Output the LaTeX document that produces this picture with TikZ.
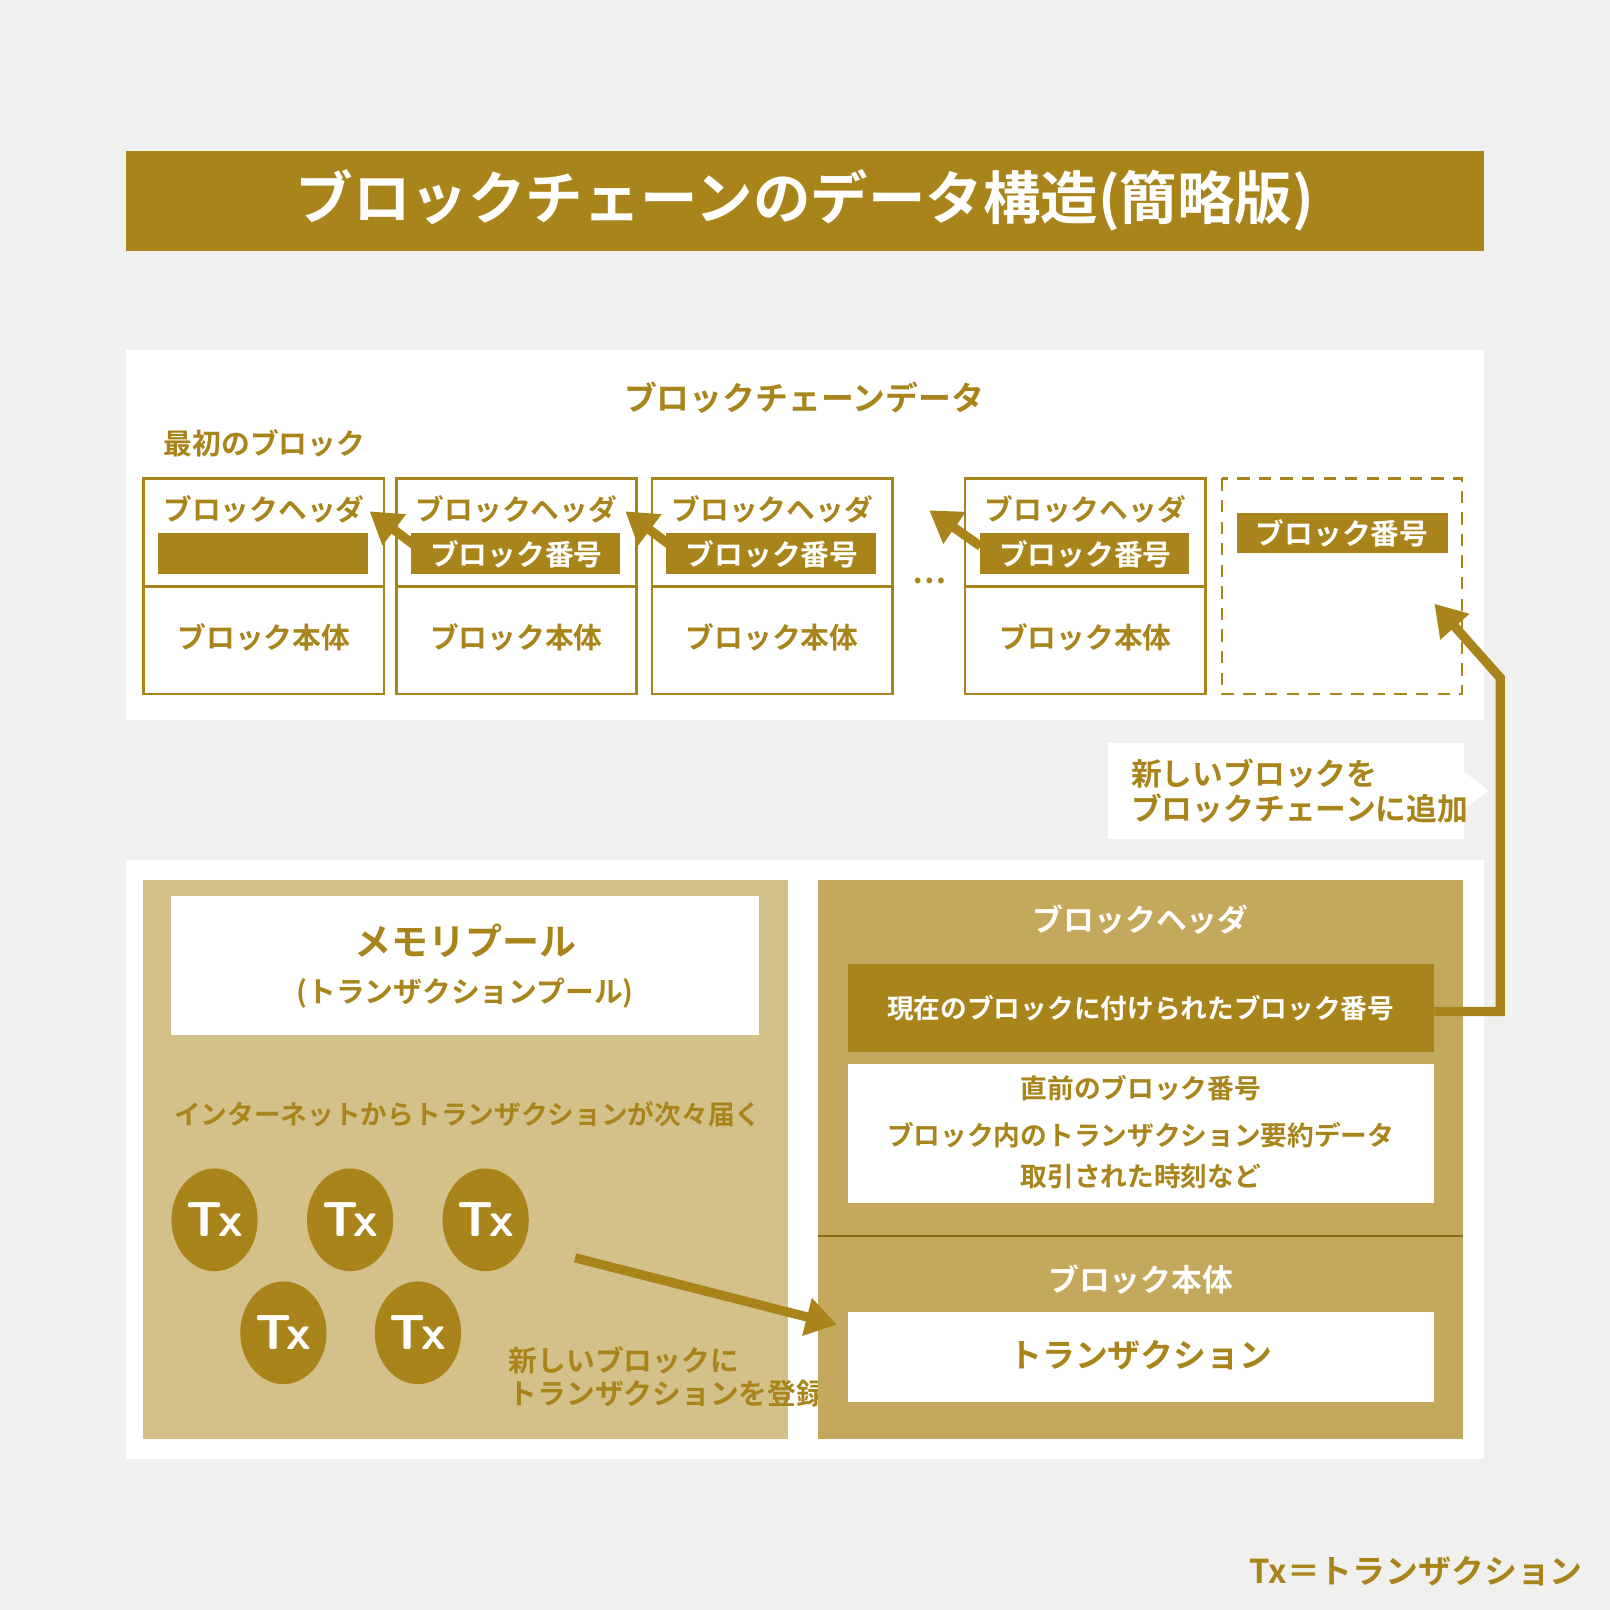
\documentclass[tikz,border=0pt]{standalone}
\usepackage{fontspec}
\setmainfont{Noto Sans CJK JP Bold}
\usetikzlibrary{arrows.meta}
\definecolor{gold}{HTML}{A8841A}
\definecolor{tan}{HTML}{D4C18A}
\definecolor{mid}{HTML}{C4A85C}
\definecolor{bg}{HTML}{F0F0EE}
\newcommand{\fs}[1]{\fontsize{#1}{#1}\selectfont}
\tikzset{
  blk/.style={draw=gold,line width=2.5pt,fill=white},
  gtxt/.style={text=gold,font=\fs{28}},
  wtxt/.style={text=white,font=\fs{28}},
  gbar/.style={fill=gold},
  arr/.style={draw=gold,line width=9pt,-{Triangle[length=30pt,width=36pt]}},
  tx/.style={ellipse,fill=gold,minimum width=84pt,minimum height=100pt,text=white,font=\fs{48}\sffamily\bfseries,inner sep=0pt},
}
\usetikzlibrary{shapes.geometric}
\begin{document}
\begin{tikzpicture}[x=1pt,y=-1pt]
\fill[bg] (0,0) rectangle (1568,1568);
\useasboundingbox (0,0) rectangle (1568,1568);
% title
\fill[gold] (123,147) rectangle (1445,244);
\node[text=white,font=\fs{56}] (title) at (784,195) {ブロックチェーンのデータ構造(簡略版)};
% top panel
\fill[white] (123,341) rectangle (1445,701);
\node[gtxt,font=\fs{32}] (cd) at (783,387) {ブロックチェーンデータ};
\node[gtxt,anchor=west] (first) at (156,432) {最初のブロック};
\foreach \x/\n in {140/b1,386/b2,635/b3,940/b4}{
  \draw[blk] (\x,466) rectangle ++(234,210);
  \draw[draw=gold,line width=2.5pt] (\x,571) -- ++(234,0);
  \node[gtxt] (\n h) at (\x+117,496) {ブロックヘッダ};
  \node[gtxt] (\n b) at (\x+117,621) {ブロック本体};
}
\fill[gold] (154,519) rectangle (358,559);
\foreach \x/\n in {386/b2,635/b3,940/b4}{
  \fill[gold] (\x+14,519) rectangle (\x+218,559);
  \node[wtxt] (\n n) at (\x+117,540) {ブロック番号};
}
\coordinate (b1e) at (360,498);
\coordinate (b2e) at (609,498);
\coordinate (b3e) at (905,497);
\coordinate (b2s) at (405,532);
\coordinate (b3s) at (654,532);
\coordinate (b4s) at (955,532);
\draw[arr] (b2s) -- (b1e);
\draw[arr] (b3s) -- (b2e);
\draw[arr] (b4s) -- (b3e);
\node[gtxt,font=\fs{30}] (dots) at (905,566) {…};
\draw[draw=gold,line width=2.5pt,dash pattern=on 12pt off 9pt] (1190,466) rectangle (1424,676);
\fill[gold] (1205,500) rectangle (1410,539);
\node[wtxt] (nn) at (1307,519) {ブロック番号};
% label
\fill[white] (1079,724) rectangle (1426,817);
\fill[white] (1426,752) -- (1450,770) -- (1426,788) -- cycle;
\node[gtxt,anchor=west,align=left,font=\fs{30}] (lab) at (1098,770) {新しいブロックを\\[4pt]ブロックチェーンに追加};
% bottom panel
\fill[white] (123,838) rectangle (1445,1421);
\fill[tan] (139,857) rectangle (767,1401);
\fill[white] (167,873) rectangle (739,1008);
\node[gtxt,font=\fs{36}] (mp) at (453,916) {メモリプール};
\node[gtxt] (tp) at (453,967) {(トランザクションプール)};
\node[gtxt,anchor=west,font=\fs{26}] (inet) at (166,1085) {インターネットからトランザクションが次々届く};
\node[tx] (t1) at (209,1188) {Tx};
\node[tx] (t2) at (341,1188) {Tx};
\node[tx] (t3) at (473,1188) {Tx};
\node[tx] (t4) at (276,1298) {Tx};
\node[tx] (t5) at (407,1298) {Tx};
\node[gtxt,anchor=west,align=left] (reg) at (492,1341) {新しいブロックに\\[4pt]トランザクションを登録};
\fill[mid] (797,857) rectangle (1425,1401);
\draw[draw=gold!80!black,line width=1.5pt] (797,1204) -- (1425,1204);
\node[wtxt,font=\fs{30}] (hh) at (1111,896) {ブロックヘッダ};
\fill[gold] (826,939) rectangle (1397,1025);
\node[wtxt,font=\fs{26}] (cur) at (1111,982) {現在のブロックに付けられたブロック番号};
\fill[white] (826,1036) rectangle (1397,1172);
\node[gtxt,font=\fs{26}] (l1) at (1111,1060) {直前のブロック番号};
\node[gtxt,font=\fs{26}] (l2) at (1111,1106) {ブロック内のトランザクション要約データ};
\node[gtxt,font=\fs{26}] (l3) at (1111,1146) {取引された時刻など};
\node[wtxt,font=\fs{30}] (bb) at (1111,1246) {ブロック本体};
\fill[white] (826,1278) rectangle (1397,1365);
\node[gtxt,font=\fs{32}] (trx) at (1111,1320) {トランザクション};
\coordinate (as) at (560,1225);
\coordinate (ae) at (815,1290);
\draw[arr] (as) -- (ae);
\coordinate (cs) at (1397,985);
\coordinate (ce) at (1397,588);
\draw[arr,line join=miter] (cs) -- (1461,985) -- (1461,660) -- (ce);
\node[gtxt,anchor=east,font=\fs{32}] (leg) at (1545,1530) {Tx＝トランザクション};
\end{tikzpicture}
\end{document}
